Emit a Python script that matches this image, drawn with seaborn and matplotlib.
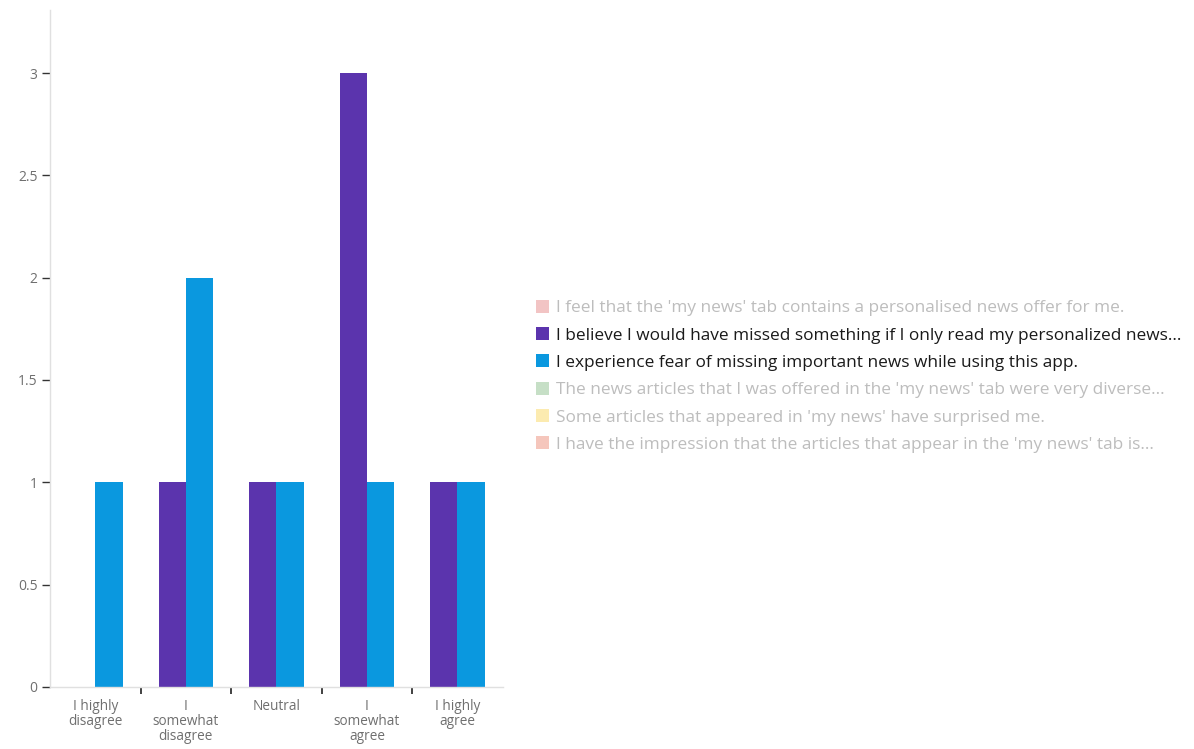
import matplotlib
matplotlib.use("Agg")
import matplotlib.pyplot as plt
from matplotlib.patches import Patch
import seaborn as sns
import pandas as pd

categories = ["I highly\ndisagree", "I\nsomewhat\ndisagree", "Neutral",
              "I\nsomewhat\nagree", "I highly\nagree"]

series_names = [
    "I feel that the 'my news' tab contains a personalised news offer for me.",
    "I believe I would have missed something if I only read my personalized news...",
    "I experience fear of missing important news while using this app.",
    "The news articles that I was offered in the 'my news' tab were very diverse...",
    "Some articles that appeared in 'my news' have surprised me.",
    "I have the impression that the articles that appear in the 'my news' tab is...",
]
series_colors = ["#f2c4c4", "#5b34ad", "#0a98df", "#c6dfc6", "#fcebb0", "#f5c6bc"]
active = [False, True, True, False, False, False]

missed_something = [0, 1, 1, 3, 1]
fear_of_missing = [1, 2, 1, 1, 1]

sns.set_theme(style="white")
plt.rcParams["font.family"] = ["Open Sans", "DejaVu Sans"]

df = pd.DataFrame({
    "category": categories * 2,
    "series": [series_names[1]] * 5 + [series_names[2]] * 5,
    "value": missed_something + fear_of_missing,
})

fig = plt.figure(figsize=(11.94, 7.49), dpi=100)
ax = fig.add_axes([0.042, 0.083, 0.379, 0.904])

sns.barplot(data=df, x="category", y="value", hue="series",
            hue_order=[series_names[1], series_names[2]],
            palette=[series_colors[1], series_colors[2]],
            order=categories, width=0.6, gap=0, saturation=1,
            linewidth=0, ax=ax, legend=False)

ax.set_xlim(-0.5, 4.5)
ax.set_ylim(0, 3.31)
ax.set_xlabel("")
ax.set_ylabel("")
ax.set_yticks([0, 0.5, 1, 1.5, 2, 2.5, 3])
ax.set_yticklabels(["0", "0.5", "1", "1.5", "2", "2.5", "3"])

# category labels centred, tick marks on the boundaries between categories
ax.set_xticks(range(len(categories)))
ax.set_xticklabels(categories, fontsize=9.8, color="#6f6f6f", linespacing=0.97)
ax.tick_params(axis="x", which="major", bottom=True, length=0, pad=9)
ax.set_xticks([0.5, 1.5, 2.5, 3.5], minor=True)
ax.tick_params(axis="x", which="minor", bottom=True, length=5, width=1.3,
               color="#333333", direction="out")
ax.tick_params(axis="y", which="major", left=True, length=6, width=1,
               color="#333333", direction="out",
               labelsize=10, labelcolor="#6f6f6f", pad=3)

for side in ("top", "right"):
    ax.spines[side].set_visible(False)
for side in ("left", "bottom"):
    ax.spines[side].set_color("#e0e0e0")
    ax.spines[side].set_linewidth(1)

handles = [Patch(facecolor=c, edgecolor="none") for c in series_colors]
leg = fig.legend(handles, series_names, loc="center left",
                 bbox_to_anchor=(0.4416, 0.4975), frameon=False,
                 fontsize=12.4, handlelength=0.78, handleheight=0.78,
                 handletextpad=0.4, labelspacing=0.63, borderpad=0)
for text, on in zip(leg.get_texts(), active):
    text.set_color("#1a1a1a" if on else "#bdbdbd")

fig.savefig("out.png", dpi=100, facecolor="white")
